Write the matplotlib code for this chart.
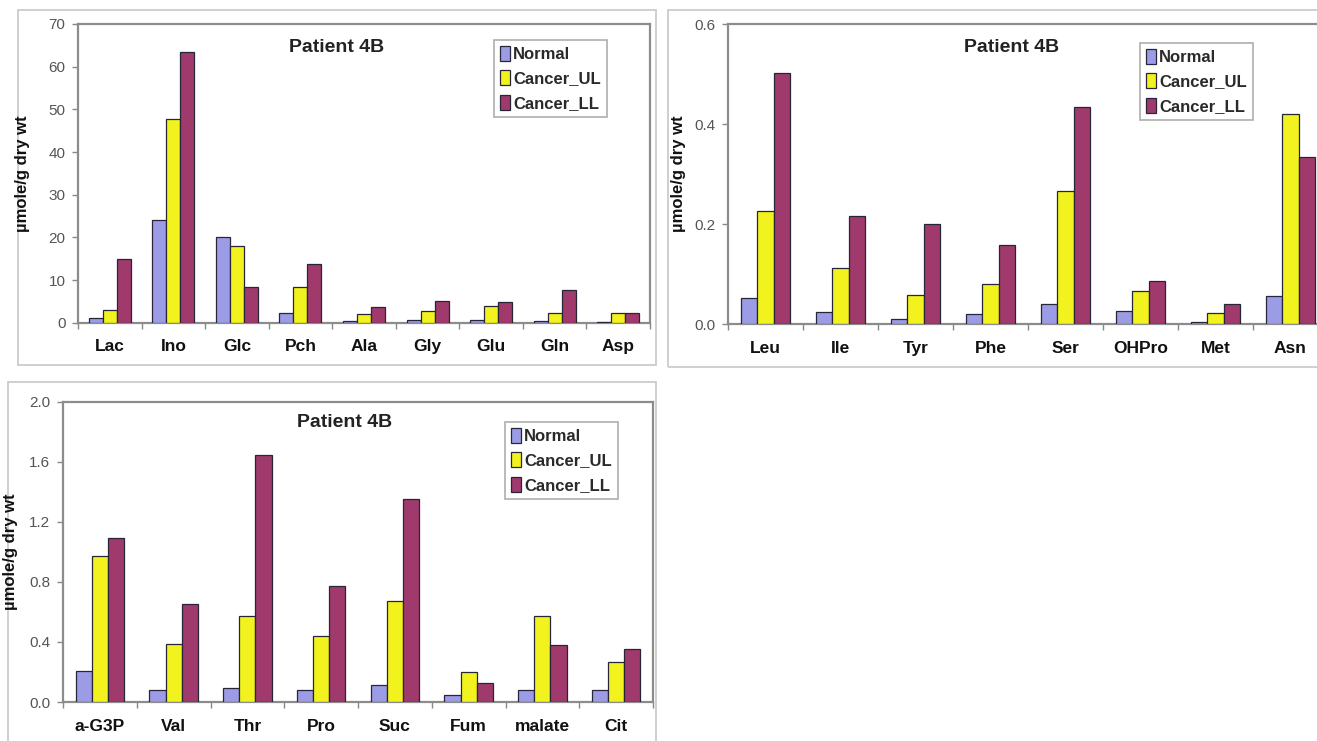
import matplotlib
matplotlib.use("Agg")
import matplotlib.pyplot as plt
import numpy as np
from matplotlib.patches import Rectangle
from matplotlib.ticker import FixedLocator

plt.rcParams['font.family'] = ['Liberation Sans', 'DejaVu Sans']

series = ["Normal", "Cancer_UL", "Cancer_LL"]
colors = ["#9c9ce6", "#f2f21e", "#a03a6c"]

cats1 = ["Lac", "Ino", "Glc", "Pch", "Ala", "Gly", "Glu", "Gln", "Asp"]
normal1 = [1.1, 24.0, 20.1, 2.3, 0.3, 0.7, 0.7, 0.5, 0.1]
ul1 = [2.9, 47.7, 18.0, 8.4, 2.1, 2.8, 3.9, 2.3, 2.3]
ll1 = [15.0, 63.5, 8.4, 13.8, 3.6, 5.0, 4.8, 7.7, 2.3]
yt1 = [0, 10, 20, 30, 40, 50, 60, 70]
yl1 = ["0", "10", "20", "30", "40", "50", "60", "70"]

cats2 = ["Leu", "Ile", "Tyr", "Phe", "Ser", "OHPro", "Met", "Asn"]
normal2 = [0.053, 0.025, 0.010, 0.020, 0.040, 0.027, 0.005, 0.056]
ul2 = [0.226, 0.113, 0.058, 0.080, 0.266, 0.066, 0.023, 0.420]
ll2 = [0.502, 0.217, 0.201, 0.159, 0.434, 0.086, 0.040, 0.334]
yt2 = [0.0, 0.2, 0.4, 0.6]
yl2 = ["0.0", "0.2", "0.4", "0.6"]

cats3 = ["a-G3P", "Val", "Thr", "Pro", "Suc", "Fum", "malate", "Cit"]
normal3 = [0.204, 0.082, 0.093, 0.078, 0.115, 0.044, 0.078, 0.078]
ul3 = [0.973, 0.388, 0.574, 0.441, 0.670, 0.202, 0.574, 0.264]
ll3 = [1.095, 0.652, 1.645, 0.774, 1.350, 0.126, 0.377, 0.353]
yt3 = [0.0, 0.4, 0.8, 1.2, 1.6, 2.0]
yl3 = ["0.0", "0.4", "0.8", "1.2", "1.6", "2.0"]

W, H = 1317, 741
fig = plt.figure(figsize=(W / 100, H / 100), dpi=100)
fig.patch.set_facecolor("white")


def px_axes(l, t, r, b):
    return fig.add_axes([l / W, 1 - b / H, (r - l) / W, (b - t) / H])


def frame(l, t, r, b):
    fig.add_artist(Rectangle((l / W, 1 - b / H), (r - l) / W, (b - t) / H,
                             transform=fig.transFigure, fill=False,
                             edgecolor="#cccccc", linewidth=1.3, zorder=0))


frame(18, 10, 656, 365)
frame(668, 10, 1330, 367)
frame(8, 382, 656, 760)


def panel(box, cats, vals, yticks, ylabels, title_xy, leg_xy, ylab_x):
    l, t, r, b = box
    ax = px_axes(l, t, r, b)
    n = len(cats)
    x = np.arange(n)
    bw = 0.22
    for i, (v, c, s) in enumerate(zip(vals, colors, series)):
        ax.bar(x + (i - 1) * bw, v, width=bw, color=c, edgecolor="#262638",
               linewidth=0.9, label=s, zorder=3)
    ax.set_xlim(-0.5, n - 0.5)
    ax.set_ylim(yticks[0], yticks[-1])
    ax.set_yticks(yticks)
    ax.set_yticklabels(ylabels)
    ax.set_xticks(x)
    ax.set_xticklabels(cats, fontsize=12.5, fontweight="bold", color="#111111")
    ax.xaxis.set_minor_locator(FixedLocator(np.arange(n + 1) - 0.5))
    ax.tick_params(axis="x", which="major", length=0, pad=12)
    ax.tick_params(axis="x", which="minor", length=4, color="#888888", width=1)
    ax.tick_params(axis="y", length=4, color="#888888", width=1,
                   labelsize=11, labelcolor="#555555", pad=5)
    for sp in ax.spines.values():
        sp.set_color("#8c8c8c")
        sp.set_linewidth(1.6)
    ax.set_ylabel("\u00b5mole/g dry wt", fontsize=12, fontweight="bold",
                  color="#111111")
    ax.yaxis.set_label_coords((ylab_x - l) / (r - l), 0.5)
    fig.text(title_xy[0] / W, 1 - title_xy[1] / H, "Patient 4B",
             fontsize=14, fontweight="bold", color="#222222",
             ha="center", va="center")
    leg = ax.legend(loc="upper left",
                    bbox_to_anchor=(leg_xy[0] / W, 1 - leg_xy[1] / H),
                    bbox_transform=fig.transFigure,
                    prop={"size": 12, "weight": "bold"},
                    frameon=True, fancybox=False, handlelength=0.6,
                    handleheight=1.0, handletextpad=0.2, labelspacing=0.5,
                    borderpad=0.35, borderaxespad=0)
    leg.get_frame().set_edgecolor("#999999")
    leg.get_frame().set_linewidth(1.2)
    for txt in leg.get_texts():
        txt.set_color("#2a2a2a")
    return ax


panel((78, 24, 650, 322.7), cats1, [normal1, ul1, ll1], yt1, yl1,
      (337, 47), (494, 40), 30)
panel((728, 24, 1328, 324), cats2, [normal2, ul2, ll2], yt2, yl2,
      (1012, 47), (1140, 43), 686)
panel((63, 401.7, 653, 702), cats3, [normal3, ul3, ll3], yt3, yl3,
      (345, 423), (505, 422), 18)

fig.savefig("out.png", dpi=100)
